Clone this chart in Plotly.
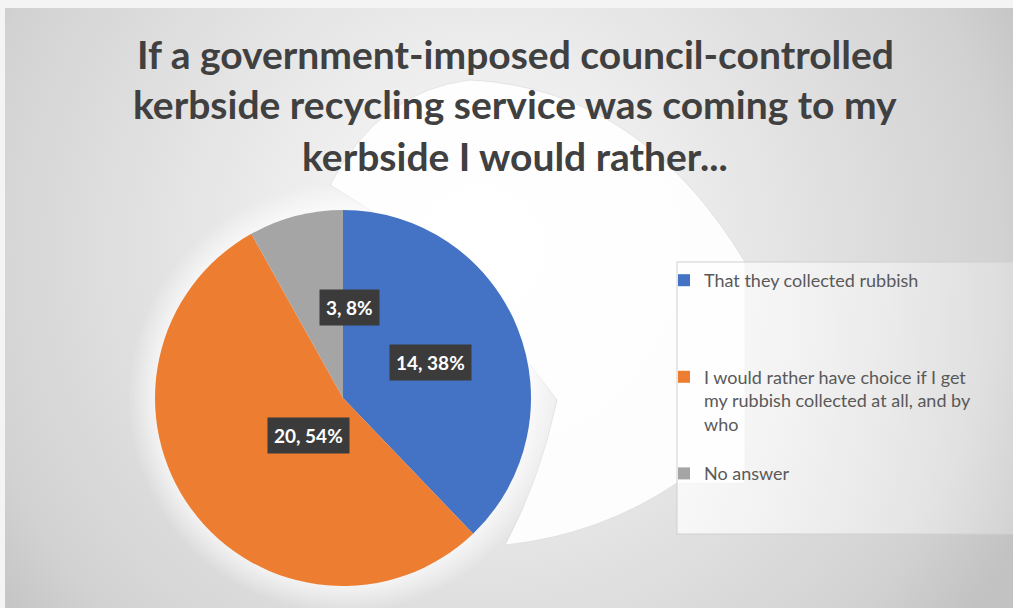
import base64
import math
import plotly.graph_objects as go

# ---- data ----
categories = [
    "That they collected rubbish",
    "I would rather have choice if I get my rubbish collected at all, and by who",
    "No answer",
]
counts = [14, 20, 3]
colors = ["#4472C4", "#ED7D31", "#A5A5A5"]
title_lines = [
    "If a government-imposed council-controlled",
    "kerbside recycling service was coming to my",
    "kerbside I would rather...",
]

W, H = 1013, 608

# legend display labels (line wrapping / spacing only)
legend_labels = [
    categories[0] + "<br> <br> <br> ",
    "I would rather have choice if I get<br>my rubbish collected at all, and by<br>who<br> ",
    categories[2],
]

# ---- background (decorative) ----
svg = f"""<svg xmlns="http://www.w3.org/2000/svg" width="{W}" height="{H}" viewBox="0 0 {W} {H}">
<defs>
<radialGradient id="g" cx="480" cy="250" r="610" gradientUnits="userSpaceOnUse">
<stop offset="0" stop-color="#fbfbfb"/>
<stop offset="0.3" stop-color="#eeeeee"/>
<stop offset="0.85" stop-color="#d2d2d2"/>
<stop offset="1" stop-color="#c2c2c2"/>
</radialGradient>
<radialGradient id="glow" cx="343" cy="398" r="215" gradientUnits="userSpaceOnUse">
<stop offset="0.86" stop-color="#ffffff" stop-opacity="0.7"/>
<stop offset="1" stop-color="#ffffff" stop-opacity="0"/>
</radialGradient>
<linearGradient id="lg" x1="0" y1="0" x2="1" y2="0">
<stop offset="0" stop-color="#ffffff" stop-opacity="0.75"/>
<stop offset="1" stop-color="#ffffff" stop-opacity="0.25"/>
</linearGradient>
</defs>
<rect width="{W}" height="{H}" fill="#f4f4f4"/>
<rect x="5" y="8" width="{W-5}" height="{H-8}" fill="url(#g)"/>
<path d="M 330 185 Q 380 90 470 80 Q 640 88 745 262 L 745 483 L 677 483 Q 600 535 505 545 Q 540 480 557 400 L 450 260 Z" fill="#ffffff" fill-opacity="0.9" stroke="#dadada" stroke-width="0.7"/>
<circle cx="343" cy="398" r="215" fill="url(#glow)"/>
<rect x="677" y="262" width="340" height="272" fill="url(#lg)" stroke="#d0d0d0" stroke-width="1"/>
</svg>"""
bg_uri = "data:image/svg+xml;base64," + base64.b64encode(svg.encode()).decode()

# pie placement (pixels -> paper)
pcx, pcy, pr = 343, 398, 188
dom_x = [(pcx - pr) / W, (pcx + pr) / W]
dom_y = [1 - (pcy + pr) / H, 1 - (pcy - pr) / H]

fig = go.Figure()
fig.add_trace(go.Pie(
    labels=legend_labels,
    values=counts,
    marker=dict(colors=colors, line=dict(width=0)),
    sort=False,
    direction="clockwise",
    rotation=0,
    textinfo="none",
    hoverinfo="value+percent",
    domain=dict(x=dom_x, y=dom_y),
    showlegend=True,
))

# data labels as boxed annotations at mid-angle, half radius
total = sum(counts)
cum = 0
annotations = []
for v in counts:
    frac_mid = (cum + v / 2) / total
    cum += v
    th = 2 * math.pi * frac_mid
    ax = (pcx + 0.5 * pr * math.sin(th)) / W
    ay = 1 - (pcy - 0.5 * pr * math.cos(th)) / H
    annotations.append(dict(
        x=ax, y=ay, xref="paper", yref="paper", showarrow=False,
        text=f"{v}, {round(100 * v / total)}%",
        font=dict(family="Lato", size=19, color="white", weight=700),
        bgcolor="#3b3b3b", borderpad=6,
    ))

title_y = [54, 104, 156]
for t, yy in zip(title_lines, title_y):
    annotations.append(dict(
        x=515 / W, y=1 - yy / H, xref="paper", yref="paper", showarrow=False,
        text=t, xanchor="center", yanchor="middle",
        font=dict(family="Lato", size=39, color="#404040", weight=700),
    ))

fig.update_layout(
    width=W, height=H,
    margin=dict(l=0, r=0, t=0, b=0),
    paper_bgcolor="#e6e6e6",
    plot_bgcolor="rgba(0,0,0,0)",
    images=[dict(source=bg_uri, xref="paper", yref="paper", x=0, y=1,
                 sizex=1, sizey=1, sizing="stretch", layer="below",
                 xanchor="left", yanchor="top")],
    annotations=annotations,
    legend=dict(
        x=664 / W, y=1 - 262 / H, xanchor="left", yanchor="top",
        bgcolor="rgba(0,0,0,0)", borderwidth=0,
        font=dict(family="Lato", size=18, color="#595959"),
        valign="top", itemwidth=30,
    ),
)

fig.write_html("out.html", config={"displayModeBar": False},
               post_script="document.body.style.margin='0';")
